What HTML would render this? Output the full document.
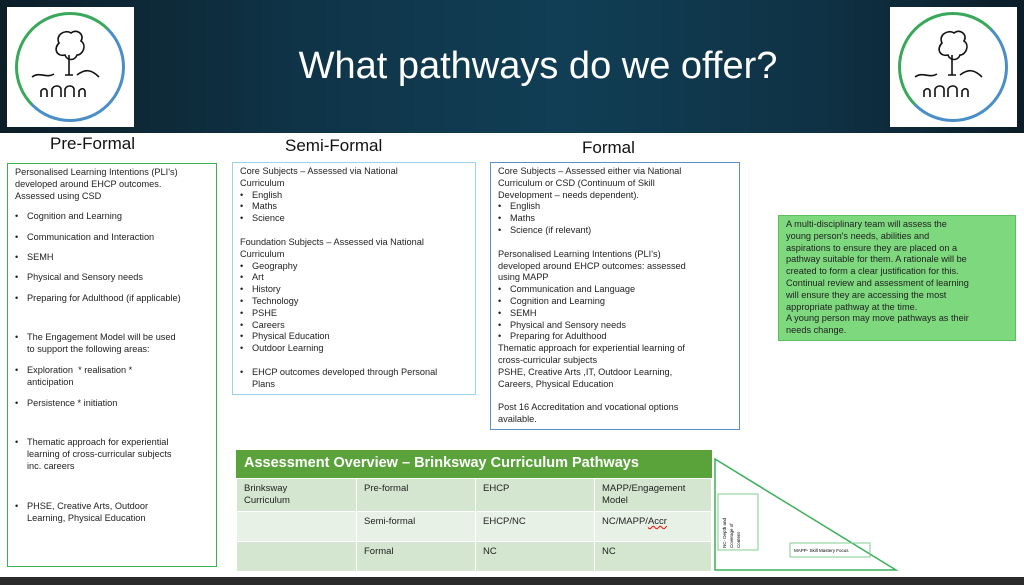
<!DOCTYPE html>
<html><head><meta charset="utf-8"><style>
*{margin:0;padding:0;box-sizing:border-box}
body{width:1024px;height:585px;background:#fff;position:relative;overflow:hidden;font-family:"Liberation Sans",sans-serif;color:#222}
.hdr{position:absolute;left:0;top:0;width:1024px;height:133px;background:linear-gradient(90deg,#0c1e28 0%,#0f3448 30%,#113e55 55%,#0f3245 80%,#0b1d27 100%)}
.logo{position:absolute;top:7px;width:127px;height:120px;background:#fff}
.logo .c{position:absolute;left:8px;top:5px;width:110px;height:110px;border-radius:50%;border:3px solid;border-color:#3aa85a #4a8ec8 #4a8ec8 #3aa85a}
h1{position:absolute;left:0;width:1076px;top:45px;text-align:center;color:#fff;font-weight:normal;font-size:38px}
.t{position:absolute;font-size:17px;color:#111}
.box{position:absolute;font-size:9.2px;line-height:11.8px;padding:3px 7px;white-space:nowrap}
ul{list-style:none}
li:before{content:"•";position:absolute;margin-left:-12px}
li{padding-left:12px}
.bot{position:absolute;left:0;top:577px;width:1024px;height:8px;background:#2b2b2b}
table{position:absolute;left:236px;top:478px;width:476px;border-collapse:collapse;font-size:9.5px}
td{background:#d4e6d0;border:1px solid #fff;vertical-align:top;padding:4px 7px;height:30px;line-height:12px}
tr:nth-child(2) td{background:#e8f1e5}
</style></head><body>
<div class="hdr"></div>
<div class="logo" style="left:7px"><div class="c"></div><svg style="position:absolute;left:0;top:0" width="127" height="120"><g fill="none" stroke="#111" stroke-width="1.6"><path d="M52 36c-4-8 6-14 12-10 6-5 14 2 10 8 6 4 2 14-4 14-2 6-10 6-12 0-8 2-12-6-6-12z"/><path d="M62 48v20M58 68h8"/><path d="M25 70c8-6 14 2 22-3M70 68c8-6 14-6 22 2M34 90v-6c2-3 5-3 6 0v6M45 90v-8c2-4 8-4 9 0v8M58 90v-8c2-4 8-4 9 0v8M72 90v-6c2-3 5-3 6 0v6"/></g></svg></div>
<div class="logo" style="left:890px"><div class="c"></div><svg style="position:absolute;left:0;top:0" width="127" height="120"><g fill="none" stroke="#111" stroke-width="1.6"><path d="M52 36c-4-8 6-14 12-10 6-5 14 2 10 8 6 4 2 14-4 14-2 6-10 6-12 0-8 2-12-6-6-12z"/><path d="M62 48v20M58 68h8"/><path d="M25 70c8-6 14 2 22-3M70 68c8-6 14-6 22 2M34 90v-6c2-3 5-3 6 0v6M45 90v-8c2-4 8-4 9 0v8M58 90v-8c2-4 8-4 9 0v8M72 90v-6c2-3 5-3 6 0v6"/></g></svg></div>
<h1>What pathways do we offer?</h1>
<div class="t" style="left:50px;top:134px">Pre-Formal</div>
<div class="t" style="left:285px;top:136px">Semi-Formal</div>
<div class="t" style="left:582px;top:138px">Formal</div>

<div class="box" style="left:7px;top:163px;width:210px;height:404px;border:1px solid #3cb04a">Personalised Learning Intentions (PLI's)<br>developed around EHCP outcomes.<br>Assessed using CSD
<ul style="margin-top:9px"><li>Cognition and Learning</li><li style="margin-top:8.5px">Communication and Interaction</li><li style="margin-top:8.5px">SEMH</li><li style="margin-top:8.5px">Physical and Sensory needs</li><li style="margin-top:8.5px">Preparing for Adulthood (if applicable)</li>
<li style="margin-top:28px">The Engagement Model will be used<br>to support the following areas:</li>
<li style="margin-top:9px">Exploration &nbsp;* realisation *<br>anticipation</li>
<li style="margin-top:9px">Persistence * initiation</li>
<li style="margin-top:28px">Thematic approach for experiential<br>learning of cross-curricular subjects<br>inc. careers</li>
<li style="margin-top:28px">PHSE, Creative Arts, Outdoor<br>Learning, Physical Education</li></ul></div>

<div class="box" style="left:232px;top:162px;width:244px;height:233px;border:1px solid #9dd0ea">Core Subjects – Assessed via National<br>Curriculum
<ul><li>English</li><li>Maths</li><li>Science</li></ul>
<div style="margin-top:12px">Foundation Subjects – Assessed via National<br>Curriculum</div>
<ul><li>Geography</li><li>Art</li><li>History</li><li>Technology</li><li>PSHE</li><li>Careers</li><li>Physical Education</li><li>Outdoor Learning</li></ul>
<ul style="margin-top:12px"><li>EHCP outcomes developed through Personal<br>Plans</li></ul></div>

<div class="box" style="left:490px;top:162px;width:250px;height:268px;border:1px solid #5b8fd0">Core Subjects – Assessed either via National<br>Curriculum or CSD (Continuum of Skill<br>Development – needs dependent).
<ul><li>English</li><li>Maths</li><li>Science (if relevant)</li></ul>
<div style="margin-top:12px">Personalised Learning Intentions (PLI's)<br>developed around EHCP outcomes: assessed<br>using MAPP</div>
<ul><li>Communication and Language</li><li>Cognition and Learning</li><li>SEMH</li><li>Physical and Sensory needs</li><li>Preparing for Adulthood</li></ul>
Thematic approach for experiential learning of<br>cross-curricular subjects<br>PSHE, Creative Arts ,IT, Outdoor Learning,<br>Careers, Physical Education
<div style="margin-top:12px">Post 16 Accreditation and vocational options<br>available.</div></div>

<div class="box" style="left:778px;top:215px;width:238px;height:126px;background:#7dd87e;border:1px solid #5cbf5f;padding:3px 7px">A multi-disciplinary team will assess the<br>young person's needs, abilities and<br>aspirations to ensure they are placed on a<br>pathway suitable for them. A rationale will be<br>created to form a clear justification for this.<br>Continual review and assessment of learning<br>will ensure they are accessing the most<br>appropriate pathway at the time.<br>A young person may move pathways as their<br>needs change.</div>

<div style="position:absolute;left:236px;top:450px;width:476px;height:28px;background:#5aa33a;color:#fff;font-weight:bold;font-size:14.5px;padding:5px 8px">Assessment Overview – Brinksway Curriculum Pathways</div>
<table><tr><td style="width:120px">Brinksway<br>Curriculum</td><td style="width:119px">Pre-formal</td><td style="width:119px">EHCP</td><td>MAPP/Engagement Model</td></tr>
<tr><td></td><td>Semi-formal</td><td>EHCP/NC</td><td>NC/MAPP/<u style="text-decoration-color:red;text-decoration-style:wavy">Accr</u></td></tr>
<tr><td></td><td>Formal</td><td>NC</td><td>NC</td></tr></table>

<svg style="position:absolute;left:712px;top:456px" width="200" height="118"><rect x="0" y="0" width="196" height="114" fill="#fff"/><path d="M3 3L184 114H3Z" fill="none" stroke="#3cb05a" stroke-width="1.5"/><rect x="6" y="38" width="40" height="56" fill="none" stroke="#7fcf8f"/><text transform="translate(14 92) rotate(-90)" font-size="4.5" font-family="Liberation Sans">NC- Depth and</text><text transform="translate(21 92) rotate(-90)" font-size="4.5" font-family="Liberation Sans">Coverage of</text><text transform="translate(28 92) rotate(-90)" font-size="4.5" font-family="Liberation Sans">Content</text><rect x="78" y="87" width="80" height="14" fill="none" stroke="#7fcf8f"/><text x="82" y="96" font-size="4.5" font-family="Liberation Sans">MAPP- Skill Mastery Focus</text></svg>
<div class="bot"></div>
</body></html>
